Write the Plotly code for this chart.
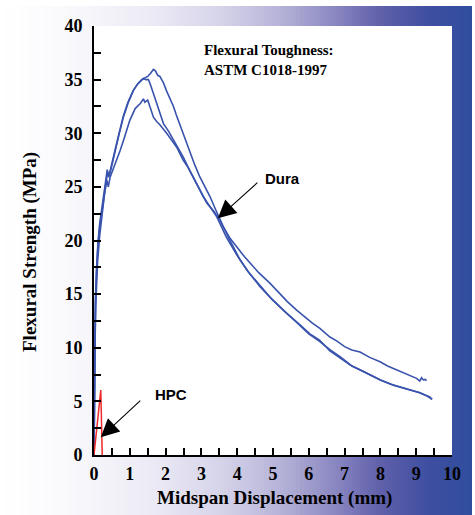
import plotly.graph_objects as go

# ---------------- data ----------------
dura1_x = [0, 0.005, 0.01, 0.02, 0.04, 0.07, 0.11, 0.16, 0.21, 0.27, 0.33, 0.38, 0.42, 0.47, 0.53, 0.6,
           0.7, 0.82, 0.95, 1.1, 1.22, 1.33, 1.42, 1.5, 1.58, 1.66, 1.72, 1.78, 1.84, 1.9, 1.94, 2.02,
           2.12, 2.22, 2.3, 2.4, 2.52, 2.68, 2.82, 2.96, 3.1, 3.24, 3.42, 3.61, 3.8, 4.0, 4.2, 4.36,
           4.6, 4.92, 5.2, 5.4, 5.66, 5.9, 6.1, 6.31, 6.59, 6.8, 7.0, 7.2, 7.43, 7.7, 7.99, 8.2, 8.4,
           8.55, 8.75, 8.9, 9.01, 9.1, 9.15, 9.2, 9.25, 9.29]
dura1_y = [0, 3, 6, 10, 14, 17, 19.5, 21.3, 22.6, 24.0, 25.2, 26.4, 26.0, 26.6, 27.5, 28.5,
           29.9, 31.5, 32.8, 34.0, 34.6, 35.0, 35.2, 35.3, 35.6, 35.95, 35.8, 35.4, 35.3, 34.9, 34.7, 34.0,
           33.3, 32.5, 31.7, 30.8, 29.8, 28.2, 27.0, 25.9, 25.0, 24.1, 22.7, 21.3, 20.2, 19.3, 18.5, 17.9,
           17.0, 16.0, 15.0, 14.3, 13.5, 12.8, 12.3, 11.8, 11.0, 10.6, 10.1, 9.8, 9.6, 9.1, 8.7, 8.3, 8.0,
           7.8, 7.5, 7.3, 7.15, 6.9, 7.2, 7.0, 7.05, 6.93]

dura2_x = [0, 0.005, 0.01, 0.02, 0.04, 0.07, 0.11, 0.16, 0.21, 0.27, 0.33, 0.37, 0.41, 0.46, 0.53, 0.6,
           0.7, 0.82, 0.95, 1.1, 1.22, 1.33, 1.38, 1.45, 1.52, 1.58, 1.66, 1.75, 1.84, 1.94, 2.08, 2.22,
           2.35, 2.49, 2.68, 2.87, 3.0, 3.15, 3.33, 3.52, 3.8, 4.08, 4.35, 4.64, 5.0, 5.38, 5.7, 6.03,
           6.3, 6.5, 6.59, 6.9, 7.15, 7.4, 7.71, 8.0, 8.36, 8.6, 8.83, 9.1, 9.3, 9.39, 9.43]
dura2_y = [0, 3.5, 6.5, 10.5, 14.5, 17.3, 19.8, 21.6, 22.9, 24.3, 25.6, 26.6, 25.9, 26.7, 27.6, 28.6,
           30.0, 31.6, 32.9, 34.0, 34.6, 35.0, 35.1, 35.0, 35.0, 34.5, 33.7, 32.8, 31.9, 30.9, 30.2, 29.4,
           28.6, 27.8, 26.5, 25.3, 24.5, 23.5, 22.8, 21.9, 20.0, 18.2, 16.9, 15.7, 14.4, 13.2, 12.3, 11.3,
           10.7, 10.0, 9.7, 9.0, 8.4, 8.0, 7.46, 7.0, 6.5, 6.3, 6.06, 5.8, 5.55, 5.4, 5.19]

dura3_x = [0, 0.005, 0.01, 0.02, 0.05, 0.1, 0.16, 0.22, 0.3, 0.36, 0.4, 0.45, 0.52, 0.6, 0.73, 0.85,
           1.0, 1.15, 1.3, 1.38, 1.42, 1.46, 1.5, 1.58, 1.66, 1.75, 1.84, 2.03, 2.17, 2.31, 2.49, 2.63,
           2.77, 2.9, 3.05, 3.25, 3.43, 3.7, 4.0, 4.3, 4.6, 4.95, 5.3, 5.65, 6.0, 6.3, 6.6, 6.9, 7.2,
           7.45, 7.7, 8.0, 8.3, 8.6, 8.9, 9.1, 9.3, 9.45]
dura3_y = [0, 3, 5.5, 9, 14, 18, 20.5, 22.5, 24.5, 25.6, 25.0, 25.9, 26.5, 27.2, 28.4, 29.6,
           31.2, 32.3, 32.8, 33.2, 32.9, 33.0, 33.1, 32.3, 31.5, 31.1, 30.8, 30.0, 29.4, 28.7, 27.5, 26.8,
           25.9, 25.0, 24.1, 23.1, 22.2, 20.3, 18.6, 17.1, 15.9, 14.6, 13.5, 12.4, 11.3, 10.6, 9.8, 9.1, 8.3,
           7.9, 7.5, 7.0, 6.6, 6.3, 6.0, 5.8, 5.5, 5.2]

hpc_x = [0, 0.19, 0.23]
hpc_y = [0, 6.05, 0]

x_ticks = [0, 1, 2, 3, 4, 5, 6, 7, 8, 9, 10]
y_ticks = [0, 5, 10, 15, 20, 25, 30, 35, 40]

# ---------------- layout helpers ----------------
W, H = 475, 515
L, R, T, B = 94, 452, 26, 455  # plot area pixel edges


def px2paper_x(p):
    return (p - L) / (R - L)


def px2paper_y(q):
    return (B - q) / (B - T)


stops = [(0, (255, 255, 255)), (60, (250, 250, 253)), (150, (236, 235, 245)),
         (220, (214, 212, 234)), (280, (182, 179, 216)), (330, (142, 139, 196)),
         (380, (96, 96, 170)), (430, (62, 78, 160)), (472, (48, 78, 158))]


def grad_color(p):
    for (p0, c0), (p1, c1) in zip(stops[:-1], stops[1:]):
        if p0 <= p <= p1:
            t = (p - p0) / (p1 - p0)
            c = [round(a + (b - a) * t) for a, b in zip(c0, c1)]
            return "rgb(%d,%d,%d)" % tuple(c)
    return "rgb(%d,%d,%d)" % stops[-1][1]


shapes = []
step = 4
p = 0
while p < 472:
    p2 = min(p + step, 472)
    shapes.append(dict(type="rect", xref="paper", yref="paper",
                       x0=px2paper_x(p), x1=px2paper_x(min(p2 + 0.6, 472)),
                       y0=px2paper_y(H + 20), y1=px2paper_y(6),
                       fillcolor=grad_color((p + p2) / 2), line=dict(width=0), layer="below"))
    p = p2
shapes.append(dict(type="rect", xref="paper", yref="paper", x0=0, x1=1, y0=0, y1=1,
                   fillcolor="white", line=dict(width=0), layer="below"))

blue = "#3953ad"
red = "#ee2a2a"

fig = go.Figure()
for xs, ys in [(dura1_x, dura1_y), (dura2_x, dura2_y), (dura3_x, dura3_y)]:
    fig.add_trace(go.Scatter(x=xs, y=ys, mode="lines", line=dict(color=blue, width=1.6),
                             showlegend=False, hoverinfo="skip"))
fig.add_trace(go.Scatter(x=hpc_x, y=hpc_y, mode="lines", line=dict(color=red, width=1.5),
                         showlegend=False, hoverinfo="skip"))

serif = "Liberation Serif"
sans = "Liberation Sans"

annotations = [
    dict(xref="paper", yref="paper", x=px2paper_x(202), y=px2paper_y(40), xanchor="left", yanchor="top",
         text="Flexural Toughness:<br>ASTM C1018-1997", align="left", showarrow=False,
         font=dict(family=serif, size=15, color="black", weight="bold")),
    dict(xref="paper", yref="paper", x=px2paper_x(274), y=px2paper_y(498), xanchor="center", yanchor="middle",
         text="Midspan Displacement (mm)", showarrow=False,
         font=dict(family=serif, size=19, color="black", weight="bold")),
    dict(xref="paper", yref="paper", x=px2paper_x(30), y=px2paper_y(252), xanchor="center", yanchor="middle",
         text="Flexural Strength (MPa)", showarrow=False, textangle=-90,
         font=dict(family=serif, size=19, color="black", weight="bold")),
    dict(x=3.46, y=22.07, xref="x", yref="y", text="", showarrow=True, ax=41, ay=-37,
         arrowhead=2, arrowsize=3.3, arrowwidth=1.1, arrowcolor="black", standoff=0),
    dict(x=0.19, y=1.65, xref="x", yref="y", text="", showarrow=True, ax=41, ay=-38,
         arrowhead=2, arrowsize=3.3, arrowwidth=1.1, arrowcolor="black", standoff=0),
    dict(xref="paper", yref="paper", x=px2paper_x(263), y=px2paper_y(178), xanchor="left", yanchor="middle",
         text="Dura", showarrow=False, font=dict(family=sans, size=15, color="black", weight="bold")),
    dict(xref="paper", yref="paper", x=px2paper_x(153), y=px2paper_y(394), xanchor="left", yanchor="middle",
         text="HPC", showarrow=False, font=dict(family=sans, size=15, color="black", weight="bold")),
]

fig.update_layout(
    width=W, height=H,
    margin=dict(l=L, r=W - R, t=T, b=H - B, pad=0, autoexpand=False),
    paper_bgcolor="white", plot_bgcolor="white",
    shapes=shapes, annotations=annotations,
    showlegend=False,
    xaxis=dict(range=[0, 10], tickvals=x_ticks, ticktext=[str(v) for v in x_ticks],
               ticks="inside", ticklen=7, tickwidth=2, tickcolor="black",
               minor=dict(ticks="inside", dtick=0.5, ticklen=7, tickwidth=2, tickcolor="black"),
               showline=True, linewidth=2, linecolor="black", showgrid=False, zeroline=False,
               tickfont=dict(family=serif, size=18, color="black", weight="bold"), ticklabelstandoff=1,
               fixedrange=True),
    yaxis=dict(range=[0, 40], tickvals=y_ticks, ticktext=[str(v) for v in y_ticks],
               ticks="inside", ticklen=7, tickwidth=2, tickcolor="black",
               minor=dict(ticks="inside", dtick=2.5, ticklen=7, tickwidth=2, tickcolor="black"),
               showline=True, linewidth=2, linecolor="black", showgrid=False, zeroline=False,
               tickfont=dict(family=serif, size=18, color="black", weight="bold"), ticklabelstandoff=6,
               fixedrange=True),
)

fig.write_html("out.html", config={"displayModeBar": False, "staticPlot": True},
               post_script="document.body.style.margin='0';document.body.style.padding='0';")
